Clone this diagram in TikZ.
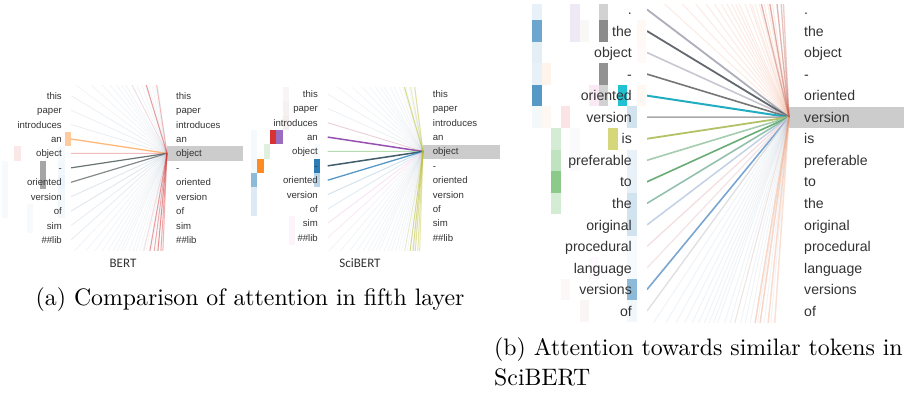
\documentclass[tikz,border=0pt]{standalone}
\usepackage{fontspec}
\newfontfamily\tokfont{Liberation Sans}
\newfontfamily\labfont{Carlito}
\newfontfamily\capfont{lmroman10-regular.otf}
\definecolor{tBlue}{HTML}{1F77B4}
\definecolor{tOrange}{HTML}{FF7F0E}
\definecolor{tGreen}{HTML}{2CA02C}
\definecolor{tRed}{HTML}{D62728}
\definecolor{tPurple}{HTML}{9467BD}
\definecolor{tBrown}{HTML}{8C564B}
\definecolor{tPink}{HTML}{E377C2}
\definecolor{tGray}{HTML}{7F7F7F}
\definecolor{tOlive}{HTML}{BCBD22}
\definecolor{tCyan}{HTML}{17BECF}
\definecolor{txt}{HTML}{333333}
\definecolor{hl}{HTML}{CCCCCC}
\definecolor{faint}{HTML}{A9BBCD}
\definecolor{dkA}{HTML}{4F5B5B}
\definecolor{dkB}{HTML}{5B6363}
\definecolor{sPurple}{HTML}{8B3FA8}
\definecolor{sSlate}{HTML}{2D4B5A}
\definecolor{sPink}{HTML}{D9A0B0}
\definecolor{rA}{HTML}{8C8C9C}
\definecolor{rB}{HTML}{4A4F57}
\definecolor{rC}{HTML}{B4AEBE}
\definecolor{rD}{HTML}{5F5F5F}
\definecolor{rE}{HTML}{17A8BF}
\definecolor{rF}{HTML}{9A9A9A}
\definecolor{rG}{HTML}{A9BD55}
\definecolor{rH}{HTML}{8FC09A}
\definecolor{rI}{HTML}{4F9E5C}
\definecolor{rJ}{HTML}{7AB29A}
\definecolor{rK}{HTML}{B3C6E0}
\definecolor{rL}{HTML}{F0D0D4}
\definecolor{rM}{HTML}{ECD4D8}
\definecolor{rN}{HTML}{6C9CCC}
\definecolor{rO}{HTML}{D8D8D8}
\definecolor{peach}{HTML}{F4B8A0}
\definecolor{rbrown}{HTML}{C0584A}
\definecolor{rorange}{HTML}{F08A5A}
\tikzset{
  tokS/.style={font=\tokfont\fontsize{9.6}{11}\selectfont, text=txt, inner sep=0pt},
  tokL/.style={font=\tokfont\fontsize{14.1}{16}\selectfont, text=txt, inner sep=0pt},
  hlbox/.style={fill=hl},
  lab/.style={font=\labfont\fontsize{13}{15}\selectfont, text=txt, inner sep=0pt},
  capstyle/.style={font=\capfont\fontsize{23.8}{28}\selectfont, text=black, inner sep=0pt},
}
\begin{document}
\begin{tikzpicture}[x=1pt,y=-1pt]
\useasboundingbox (0,0) rectangle (917,395);
\fill[white] (0,0) rectangle (917,395);

% ---------------- BERT panel ----------------
\foreach \c/\r/\col/\op in {11/3/tOrange/0.4, 3/4/tRed/0.1, 7/5/tGray/0.7, 7/6/tGray/0.7,
  10/4/tBlue/0.04, 10/5/tBlue/0.06, 10/6/tBlue/0.08, 10/7/tBlue/0.06, 10/8/tBlue/0.05,
  1/5/tBlue/0.03, 1/6/tBlue/0.03, 1/7/tBlue/0.03, 1/8/tBlue/0.03, 5/8/tBlue/0.03, 5/9/tBlue/0.03}
  \fill[\col, opacity=\op] ({71-6.3*(12-\c)},{95.7+14.43*\r-7.215}) rectangle +(6.3,14.43);
\fill[hlbox] (167,146.5) rectangle (243,161);
\coordinate (bF) at (167,153.4);
\begin{scope}
\clip (71,86) rectangle (175,250);
\foreach \r in {-1,-2,-3,-4,-5,-6,-7,-9,-11,-14,-17,-21,-26,-33,-45,11,12,13,14,15,16,17,18,19,21,23,25,28,31,35,40,46,54,65,80}{
  \pgfmathtruncatemacro\k{\r+500}
  \coordinate (bL\k) at (71,{95.7+14.43*\r});
  \draw[faint, opacity=0.15, line width=0.8] (bL\k) -- (bF);
}
\foreach \r/\col/\op/\w in {0/faint/0.22/0.8, 1/faint/0.22/0.8, 2/faint/0.25/0.8, 3/tOrange/0.55/1.3,
  4/tRed/0.3/1, 5/dkA/0.85/1.2, 6/dkB/0.75/1.2, 7/faint/0.35/0.9, 8/faint/0.35/0.9,
  9/faint/0.28/0.8, 10/faint/0.28/0.8,
  -18/tRed/0.45/1, -9/tRed/0.12/0.8, -40/tRed/0.3/1, 32/tRed/0.15/0.8, 42/tRed/0.45/1,
  55/tRed/0.35/1, 75/tRed/0.5/1, 110/tRed/0.4/1, 160/tRed/0.35/1}{
  \pgfmathtruncatemacro\k{\r+500}
  \coordinate (bL\k) at (71,{95.7+14.43*\r});
  \draw[\col, opacity=\op, line width=\w] (bL\k) -- (bF);
}
\end{scope}
\foreach \t [count=\i from 0] in {this,paper,introduces,an,object,-,oriented,version,of,sim,\#\#lib}{
  \node[tokS, anchor=base east] (bLt\i) at (62,{95.7+14.43*\i+3.5}) {\t};
  \node[tokS, anchor=base west] (bRt\i) at (176,{95.7+14.43*\i+3.5}) {\t};
}
\node[lab, anchor=base] (labA) at (123,267) {BERT};

% ---------------- SciBERT panel ----------------
\foreach \c/\r/\col/\op in {0/6/tBlue/0.5, 0/7/tBlue/0.15, 0/8/tBlue/0.15, 0/5/tBlue/0.05, 0/4/tBlue/0.04, 0/3/tBlue/0.04,
  1/5/tOrange/0.9, 2/4/tGreen/0.15, 3/3/tRed/0.95, 4/3/tPurple/0.95,
  5/0/tBrown/0.06, 5/1/tBrown/0.08, 5/2/tBrown/0.1, 6/9/tPink/0.08, 6/10/tPink/0.08,
  10/5/tBlue/0.95, 10/6/tBlue/0.3, 10/4/tBlue/0.03}
  \fill[\col, opacity=\op] ({251+6.3*\c},{94+14.37*\r-7.185}) rectangle +(6.3,14.37);
\fill[hlbox] (423,145) rectangle (500,159);
\coordinate (sF) at (423,151.5);
\begin{scope}
\clip (327.7,88) rectangle (430,250);
\foreach \r in {-1,-2,-3,-4,-5,-6,-7,-9,-11,-14,-17,-21,-26,-33,-45,11,12,13,14,15,16,17,18,19,21,23,25,28,31,35,40,46,54,65,80}{
  \pgfmathtruncatemacro\k{\r+500}
  \coordinate (sL\k) at (327.7,{94+14.37*\r});
  \draw[faint, opacity=0.15, line width=0.8] (sL\k) -- (sF);
}
\foreach \r/\col/\op/\w in {0/faint/0.2/0.8, 1/faint/0.2/0.8, 2/sPink/0.5/0.9, 3/sPurple/0.9/1.5,
  4/tGreen!60!white/0.6/1, 5/sSlate/0.9/1.5, 6/tBlue/0.75/1.3, 7/tBlue!50!white/0.4/1,
  8/tBlue!40!white/0.35/0.9, 9/tPink/0.2/0.9, 10/tPink/0.15/0.9,
  -19/tOlive/0.55/1, -48/tOlive/0.4/1, -30/tOlive/0.25/0.9, 40/tOlive/0.2/0.9, 55/tOlive/0.5/1,
  70/tOlive/0.5/1, 90/tOlive/0.45/1, 130/tOlive/0.4/1, 200/tOlive/0.35/1}{
  \pgfmathtruncatemacro\k{\r+500}
  \coordinate (sL\k) at (327.7,{94+14.37*\r});
  \draw[\col, opacity=\op, line width=\w] (sL\k) -- (sF);
}
\end{scope}
\foreach \t [count=\i from 0] in {this,paper,introduces,an,object,-,oriented,version,of,sim,\#\#lib}{
  \node[tokS, anchor=base east] (sLt\i) at (318,{94+14.37*\i+3.5}) {\t};
  \node[tokS, anchor=base west] (sRt\i) at (432.7,{94+14.37*\i+3.5}) {\t};
}
\node[lab, anchor=base] (labB) at (360,267) {SciBERT};

% ---------------- right panel ----------------
\begin{scope}
\clip (520,5) rectangle (660,330);
\foreach \c/\r/\col/\op in {0/0/tBlue/0.1, 0/1/tBlue/0.65, 0/2/tBlue/0.12, 0/3/tBlue/0.1, 0/4/tBlue/0.75, 0/5/tBlue/0.05,
  1/3/tOrange/0.08, 1/5/tOrange/0.05,
  2/6/tGreen/0.2, 2/7/tGreen/0.3, 2/8/tGreen/0.55, 2/9/tGreen/0.2,
  3/5/tRed/0.12, 3/13/tRed/0.03,
  4/0/tPurple/0.15, 4/1/tPurple/0.15, 4/6/tPurple/0.04, 4/7/tPurple/0.04,
  5/1/tBrown/0.04, 5/14/tBrown/0.05, 6/4/tPink/0.15, 6/12/tPink/0.04,
  7/0/tGray/0.35, 7/1/tGray/0.9, 7/3/tGray/0.85, 7/4/tGray/0.35,
  8/6/tOlive/0.6, 9/4/tCyan/0.95,
  10/5/tBlue/0.2, 10/7/tBlue/0.1, 10/8/tBlue/0.1, 10/9/tBlue/0.2, 10/10/tBlue/0.2, 10/13/tBlue/0.5,
  10/14/tBlue/0.06, 10/11/tBlue/0.03, 10/12/tBlue/0.03,
  11/1/tOrange/0.04, 11/4/tOrange/0.05, 11/2/tOrange/0.03}
  \fill[\col, opacity=\op] ({532+9.5*\c},{9.5+21.54*\r-10.77}) rectangle +(9.5,21.54);
\end{scope}
\fill[hlbox] (789,107.5) rectangle (904,128);
\coordinate (rFan) at (789,117.2);
\begin{scope}
\clip (647,5) rectangle (795,322);
\foreach \r in {-1,-2,-3,-4,-5,-6,-7,-8,-9,-10,-12,-14,-17,-20,-25,-30,-40}{
  \pgfmathtruncatemacro\k{\r+500}
  \coordinate (rL\k) at (647,{9.5+21.54*\r});
  \draw[peach, opacity=0.28, line width=1] (rL\k) -- (rFan);
}
\foreach \r in {15,16,17,18,19,20,21,22,23,24,26,28,30,33,36,40,48,60,80}{
  \pgfmathtruncatemacro\k{\r+500}
  \coordinate (rL\k) at (647,{9.5+21.54*\r});
  \draw[faint, opacity=0.16, line width=1] (rL\k) -- (rFan);
}
\foreach \r/\col/\op/\w in {0/rA/0.7/1.8, 1/rB/0.85/1.8, 2/rC/0.7/1.6, 3/rD/0.85/1.6, 4/rE/0.95/2,
  5/rF/0.85/1.6, 6/rG/0.9/1.8, 7/rH/0.8/1.6, 8/rI/0.85/1.6, 9/rJ/0.8/1.6, 10/rK/0.8/1.5,
  11/rL/0.7/1.3, 12/rM/0.6/1.3, 13/rN/0.9/1.6, 14/rO/0.8/1.3,
  -22/rbrown/0.45/1.3, -34/rbrown/0.5/1.3, -57/rbrown/0.45/1.3, -90/rbrown/0.35/1.3, -130/rbrown/0.3/1.3,
  -15/rorange/0.15/1, 30/rorange/0.15/1, 45/rorange/0.35/1.5, 52/rorange/0.35/1.5, 70/rorange/0.3/1.5, 100/rorange/0.25/1.5}{
  \pgfmathtruncatemacro\k{\r+500}
  \coordinate (rL\k) at (647,{9.5+21.54*\r});
  \draw[\col, opacity=\op, line width=\w] (rL\k) -- (rFan);
}
\end{scope}
\foreach \t [count=\i from 0] in {.,the,object,-,oriented,version,is,preferable,to,the,original,procedural,language,versions,of}{
  \node[tokL, anchor=base east] (rLt\i) at (632,{9.5+21.54*\i+5.1}) {\t};
  \node[tokL, anchor=base west] (rRt\i) at (804,{9.5+21.54*\i+5.1}) {\t};
}

% ---------------- captions ----------------
\node[capstyle, anchor=base west] (capA) at (35.5,305) {(a) Comparison of attention in fifth layer};
\node[capstyle, anchor=base west] (capB1) at (494,355.5) {(b) Attention towards similar tokens in};
\node[capstyle, anchor=base west] (capB2) at (494,385) {SciBERT};
\end{tikzpicture}
\end{document}
